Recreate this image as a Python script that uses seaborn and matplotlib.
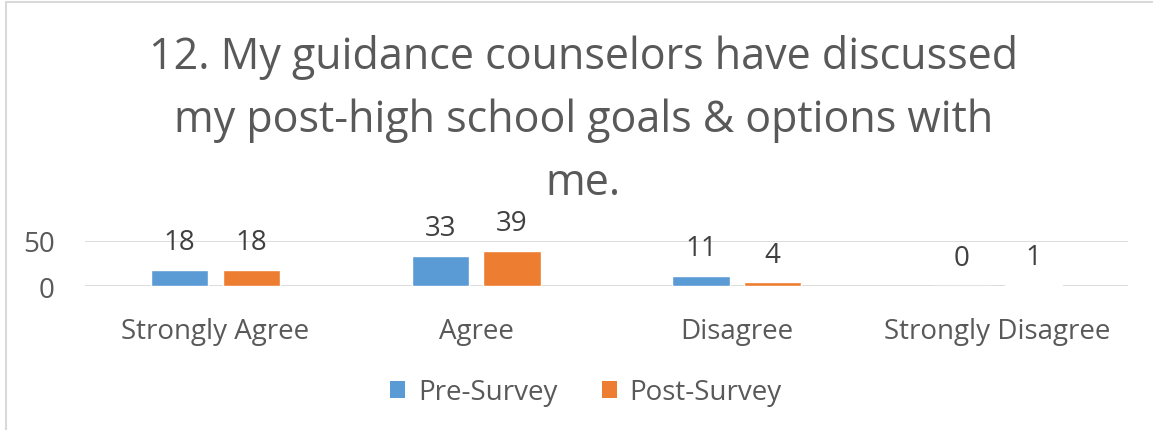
import matplotlib
matplotlib.use("Agg")
import matplotlib.pyplot as plt
from matplotlib.patches import Rectangle, Patch
import seaborn as sns
import pandas as pd

categories = ["Strongly Agree", "Agree", "Disagree", "Strongly Disagree"]
pre_survey = [18, 33, 11, 0]
post_survey = [18, 39, 4, 1]
series_names = ["Pre-Survey", "Post-Survey"]
y_ticks = [0, 50]
title = "12. My guidance counselors have discussed\nmy post-high school goals & options with\nme."

colors = ["#5B9BD5", "#ED7D31"]
text_gray = "#595959"

df = pd.DataFrame({
    "category": categories * 2,
    "count": pre_survey + post_survey,
    "survey": [series_names[0]] * len(categories) + [series_names[1]] * len(categories),
})

sns.set_theme(style="white")
plt.rcParams["font.family"] = ["Open Sans", "DejaVu Sans"]

W, H = 1153, 431
fig = plt.figure(figsize=(W / 100, H / 100), dpi=100)
ax = fig.add_axes([85 / W, (H - 287) / H, (1128 - 85) / W, 45 / H])

sns.barplot(data=df, x="category", y="count", hue="survey", order=categories,
            hue_order=series_names, palette=colors, width=0.55, gap=0.2,
            saturation=1, legend=False, ax=ax)

ax.set_ylim(0, 50)
ax.set_xlim(-0.5, len(categories) - 0.5)
ax.set_yticks(y_ticks)
ax.set_yticklabels([str(t) for t in y_ticks], fontsize=20, color=text_gray)
ax.tick_params(axis="y", length=0, pad=22)
ax.tick_params(axis="x", length=0, pad=22, labelsize=20, labelcolor=text_gray)
ax.set_xlabel("")
ax.set_ylabel("")
for s in ax.spines.values():
    s.set_visible(False)
for t in y_ticks:
    ax.axhline(t, color="#D9D9D9", lw=1.3, zorder=0)

for container in ax.containers:
    ax.bar_label(container, fmt="%d", padding=10, fontsize=20, color="#404040")

ax.patch.set_alpha(0)

fig.text(0.506, 0.918, title, ha="center", va="top", fontsize=31,
         color=text_gray, linespacing=1.55)

handles = [Patch(facecolor=c, edgecolor="none") for c in colors]
fig.legend(handles, series_names, loc="center", bbox_to_anchor=(0.508, 1 - 393 / H),
           ncol=2, frameon=False, fontsize=20, labelcolor=text_gray,
           handlelength=0.55, handleheight=0.55, handletextpad=0.45, columnspacing=1.6)

fig.patches.append(Rectangle((5.5 / W, -0.1), 1.2, 1.1 - 2.5 / H, transform=fig.transFigure,
                             fill=False, edgecolor="#D9D9D9", lw=1.5))

fig.savefig("out.png", dpi=100, facecolor="white")
